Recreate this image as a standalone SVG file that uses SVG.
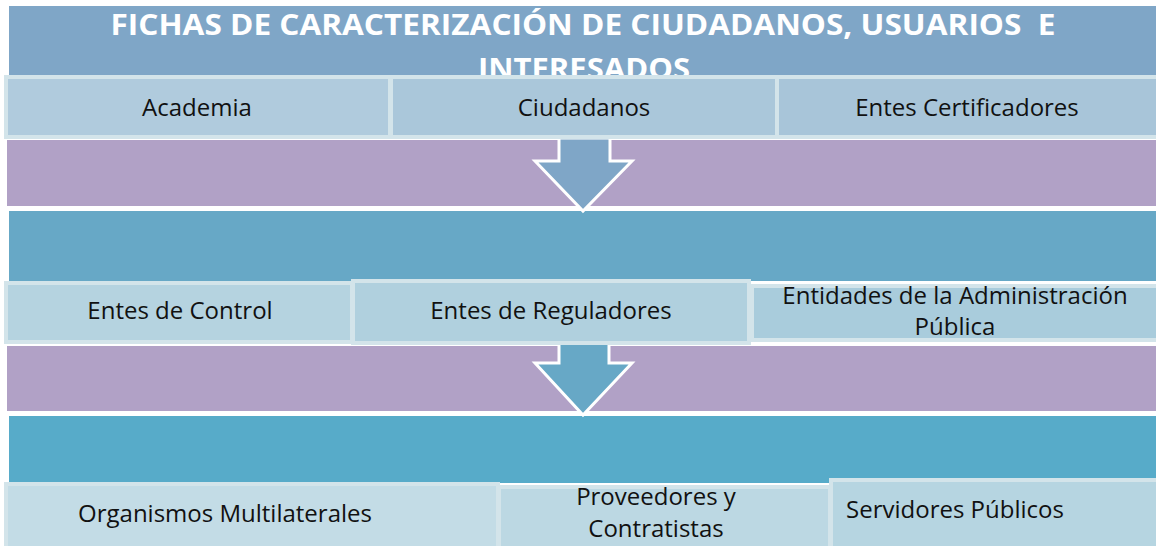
<svg xmlns="http://www.w3.org/2000/svg" width="1156" height="546" viewBox="0 0 1156 546">
<style>
.lbl{font-family:"Open Sans","Noto Sans","Liberation Sans",sans-serif;font-size:24px;fill:#111;text-anchor:middle}
.ttl{font-family:"Open Sans","Noto Sans","Liberation Sans",sans-serif;font-size:28px;font-weight:bold;fill:#fff;text-anchor:middle;white-space:pre}
.box{stroke:#d3e4ea;stroke-width:4}
.arrow{stroke:#fff;stroke-width:3;stroke-linejoin:miter}
</style>
<rect width="1156" height="546" fill="#fff"/>
<g id="bands">
<rect x="9" y="6" width="1147" height="70" fill="#7fa6c7"/>
<rect x="7" y="140" width="1149" height="66" fill="#b1a1c6"/>
<rect x="9" y="211" width="1147" height="70" fill="#67a8c6"/>
<rect x="7" y="346" width="1149" height="65" fill="#b1a1c6"/>
<rect x="9" y="416" width="1147" height="67" fill="#57abc9"/>
</g>
<g id="title">
<text class="ttl" x="583" y="35" textLength="945" lengthAdjust="spacingAndGlyphs">FICHAS DE CARACTERIZACIÓN DE CIUDADANOS, USUARIOS  E</text>
<text class="ttl" x="584" y="79" textLength="212" lengthAdjust="spacingAndGlyphs">INTERESADOS</text>
</g>
<g id="connectors">
<path class="arrow" d="M559,138 L610,138 L610,161 L632,161 L583,211 L535,161 L559,161 Z" fill="#7fa6c7"/>
<path class="arrow" d="M559,343 L609,343 L609,363 L632,363 L583,415 L535,363 L559,363 Z" fill="#67a8c6"/>
</g>
<g id="academia"><rect class="box" x="6" y="77" width="384" height="60" fill="#b0cbdd"/><text class="lbl" x="197" y="116">Academia</text></g>
<g id="ciudadanos"><rect class="box" x="391" y="77" width="386" height="60" fill="#aac7da"/><text class="lbl" x="584" y="116">Ciudadanos</text></g>
<g id="entes-certificadores"><rect class="box" x="777" y="77" width="385" height="60" fill="#a8c5d9"/><text class="lbl" x="967" y="116">Entes Certificadores</text></g>
<g id="entes-control"><rect class="box" x="6" y="283" width="346" height="59" fill="#b5d3e0"/><text class="lbl" x="180" y="319">Entes de Control</text></g>
<g id="entidades"><rect class="box" x="752" y="286" width="410" height="54" fill="#a9ccdc"/><text class="lbl" x="955" y="304">Entidades de la Administración</text><text class="lbl" x="955" y="335">Pública</text></g>
<g id="entes-reguladores"><rect class="box" x="353" y="281" width="396" height="62" fill="#b0d0de"/><text class="lbl" x="551" y="319">Entes de Reguladores</text></g>
<g id="organismos"><rect class="box" x="6" y="484" width="492" height="64" fill="#c3dce6"/><text class="lbl" x="225" y="522">Organismos Multilaterales</text></g>
<g id="proveedores"><rect class="box" x="499" y="487" width="331" height="62" fill="#bcd8e3"/><text class="lbl" x="656" y="505">Proveedores y</text><text class="lbl" x="656" y="537">Contratistas</text></g>
<g id="servidores"><rect class="box" x="831" y="480" width="330" height="68" fill="#b6d5e1"/><text class="lbl" x="955" y="518">Servidores Públicos</text></g>
</svg>
